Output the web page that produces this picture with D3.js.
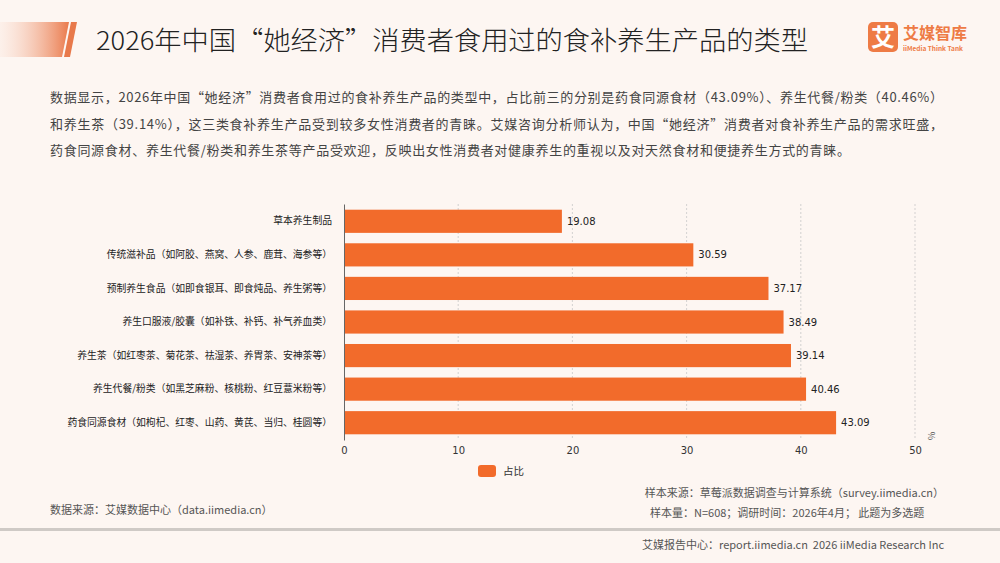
<!DOCTYPE html>
<html>
<head>
<meta charset="utf-8">
<script src="https://cdn.jsdelivr.net/npm/d3@7"></script>
<style>
  body { margin: 0; background: #fdf6f2; }
  svg { display: block; font-family: "Noto Sans CJK SC", "Noto Sans", sans-serif; }
</style>
</head>
<body>
<svg id="chart"></svg>
<script>
// data
let categories = [
    "草本养生制品",
    "传统滋补品（如阿胶、燕窝、人参、鹿茸、海参等）",
    "预制养生食品（如即食银耳、即食炖品、养生粥等）",
    "养生口服液/胶囊（如补铁、补钙、补气养血类）",
    "养生茶（如红枣茶、菊花茶、祛湿茶、养胃茶、安神茶等）",
    "养生代餐/粉类（如黑芝麻粉、核桃粉、红豆薏米粉等）",
    "药食同源食材（如枸杞、红枣、山药、黄芪、当归、桂圆等）"
];
let values = [19.08, 30.59, 37.17, 38.49, 39.14, 40.46, 43.09];
let tickValues = [0, 10, 20, 30, 40, 50];
let seriesName = "占比";

let title = "2026年中国“她经济”消费者食用过的食补养生产品的类型";
let paragraph = [
    "数据显示，2026年中国“她经济”消费者食用过的食补养生产品的类型中，占比前三的分别是药食同源食材（43.09%）、养生代餐/粉类（40.46%）",
    "和养生茶（39.14%），这三类食补养生产品受到较多女性消费者的青睐。艾媒咨询分析师认为，中国“她经济”消费者对食补养生产品的需求旺盛，",
    "药食同源食材、养生代餐/粉类和养生茶等产品受欢迎，反映出女性消费者对健康养生的重视以及对天然食材和便捷养生方式的青睐。"
];
let paraWidths = [893, 893, 800];

let svgW = 1000, svgH = 563;
let margin = { top: 204, right: 85, bottom: 123, left: 344 };
let orange = "#f26b2b";

let svg = d3.select("#chart")
    .attr("width", svgW)
    .attr("height", svgH)

svg.append("rect")
    .attr("width", svgW)
    .attr("height", svgH)
    .attr("fill", "#fdf6f2")

let defs = svg.append("defs");
let grad = defs.append("linearGradient").attr("id", "headGrad");
grad.append("stop").attr("offset", "0%").attr("stop-color", "#fbe3d8").attr("stop-opacity", 0.3);
grad.append("stop").attr("offset", "100%").attr("stop-color", "#ea7a4c");

// header decoration
svg.append("path")
    .attr("d", "M0,22 L69,22 L62,57 L0,57 Z")
    .attr("fill", "url(#headGrad)")
svg.append("path")
    .attr("d", "M71,22 L77,22 L70,57 L64,57 Z")
    .attr("fill", "#e8794b")

svg.append("text")
    .attr("x", 96)
    .attr("y", 50)
    .attr("font-size", 26)
    .attr("font-weight", 300)
    .attr("fill", "#222")
    .attr("textLength", 712)
    .attr("lengthAdjust", "spacingAndGlyphs")
    .text(title)

// logo
let logo = svg.append("g").attr("transform", "translate(868,22)");
logo.append("rect")
    .attr("width", 30).attr("height", 30).attr("rx", 5)
    .attr("fill", "#ee7b45")
logo.append("text")
    .attr("x", 15).attr("y", 24)
    .attr("text-anchor", "middle")
    .attr("font-size", 24).attr("font-weight", "bold")
    .attr("fill", "#fff")
    .text("艾")
logo.append("text")
    .attr("x", 35).attr("y", 17)
    .attr("font-size", 16).attr("font-weight", "bold")
    .attr("fill", "#ee7b45")
    .text("艾媒智库")
logo.append("text")
    .attr("x", 35).attr("y", 29)
    .attr("font-size", 6.5).attr("font-weight", "bold")
    .attr("fill", "#ee7b45")
    .text("iiMedia Think Tank")

// intro paragraph
svg.selectAll(".para")
    .data(paragraph)
    .enter()
    .append("text")
    .attr("class", "para")
    .attr("x", 50)
    .attr("y", function (d, i) { return 102 + i * 26.5; })
    .attr("font-size", 13)
    .attr("fill", "#444")
    .attr("textLength", function (d, i) { return paraWidths[i]; })
    .attr("lengthAdjust", "spacing")
    .text(function (d) { return d; })

// scales
let xScale = d3.scaleLinear()
    .domain([0, 50])
    .range([margin.left, svgW - margin.right])

let yScale = d3.scaleBand()
    .domain(categories)
    .range([margin.top, svgH - margin.bottom])
    .paddingInner(0.31)
    .paddingOuter(0.17)

// grid
svg.append("g")
    .selectAll("line")
    .data(tickValues.slice(1))
    .enter()
    .append("line")
    .attr("x1", function (d) { return xScale(d); })
    .attr("x2", function (d) { return xScale(d); })
    .attr("y1", margin.top)
    .attr("y2", svgH - margin.bottom)
    .attr("stroke", "#c8c8c8")
    .attr("stroke-width", 0.8)
    .attr("stroke-dasharray", "2,2")

// bars
svg.selectAll(".bar")
    .data(values)
    .enter()
    .append("rect")
    .attr("class", "bar")
    .attr("x", xScale(0))
    .attr("y", function (d, i) { return yScale(categories[i]); })
    .attr("width", function (d) { return xScale(d) - xScale(0); })
    .attr("height", yScale.bandwidth())
    .attr("fill", orange)

svg.selectAll(".val")
    .data(values)
    .enter()
    .append("text")
    .attr("class", "val")
    .attr("x", function (d) { return xScale(d) + 5; })
    .attr("y", function (d, i) { return yScale(categories[i]) + yScale.bandwidth() / 2; })
    .attr("dy", "0.35em")
    .attr("font-size", 10)
    .attr("fill", "#222")
    .attr("font-family", "DejaVu Sans")
    .text(function (d) { return d.toFixed(2); })

// axes
let xAxis = d3.axisBottom(xScale)
    .tickValues(tickValues)
    .tickSize(0)
    .tickPadding(7)

let gx = svg.append("g")
    .attr("transform", "translate(0," + (svgH - margin.bottom) + ")")
    .call(xAxis)
gx.select(".domain").remove();
gx.selectAll("text")
    .attr("font-size", 10)
    .attr("font-family", "DejaVu Sans")
    .attr("fill", "#333")

let yAxis = d3.axisLeft(yScale)
    .tickSize(0)
    .tickPadding(12)

let gy = svg.append("g")
    .attr("transform", "translate(" + margin.left + ",0)")
    .call(yAxis)
gy.select(".domain").attr("stroke", "#666").attr("stroke-width", 1)
gy.selectAll("text")
    .attr("font-size", 9.8)
    .attr("fill", "#222")
    .attr("font-family", "Noto Sans CJK SC")

svg.append("text")
    .attr("transform", "translate(935,440) rotate(-90)")
    .attr("font-size", 9)
    .attr("fill", "#555")
    .text("%")

// legend
svg.append("rect")
    .attr("x", 478).attr("y", 465)
    .attr("width", 18).attr("height", 12).attr("rx", 3)
    .attr("fill", orange)
svg.append("text")
    .attr("x", 503).attr("y", 475)
    .attr("font-size", 10.5)
    .attr("fill", "#333")
    .text(seriesName)

// footer
svg.append("text")
    .attr("x", 50).attr("y", 514)
    .attr("font-size", 11).attr("fill", "#555")
    .text("数据来源：艾媒数据中心（data.iimedia.cn）")
svg.append("text")
    .attr("x", 944).attr("y", 497)
    .attr("text-anchor", "end")
    .attr("font-size", 11).attr("fill", "#555")
    .text("样本来源：草莓派数据调查与计算系统（survey.iimedia.cn）")
svg.append("text")
    .attr("x", 650).attr("y", 517)
    .attr("font-size", 11).attr("fill", "#555")
    .text("样本量：N=608；调研时间：2026年4月； 此题为多选题")
svg.append("rect")
    .attr("x", 0).attr("y", 528)
    .attr("width", svgW).attr("height", 3)
    .attr("fill", "#cfcac6")
svg.append("text")
    .attr("x", 944).attr("y", 549)
    .attr("text-anchor", "end")
    .attr("font-size", 11).attr("fill", "#555")
    .text("艾媒报告中心：report.iimedia.cn\u00a0\u00a02026 iiMedia Research Inc")
</script>
</body>
</html>
